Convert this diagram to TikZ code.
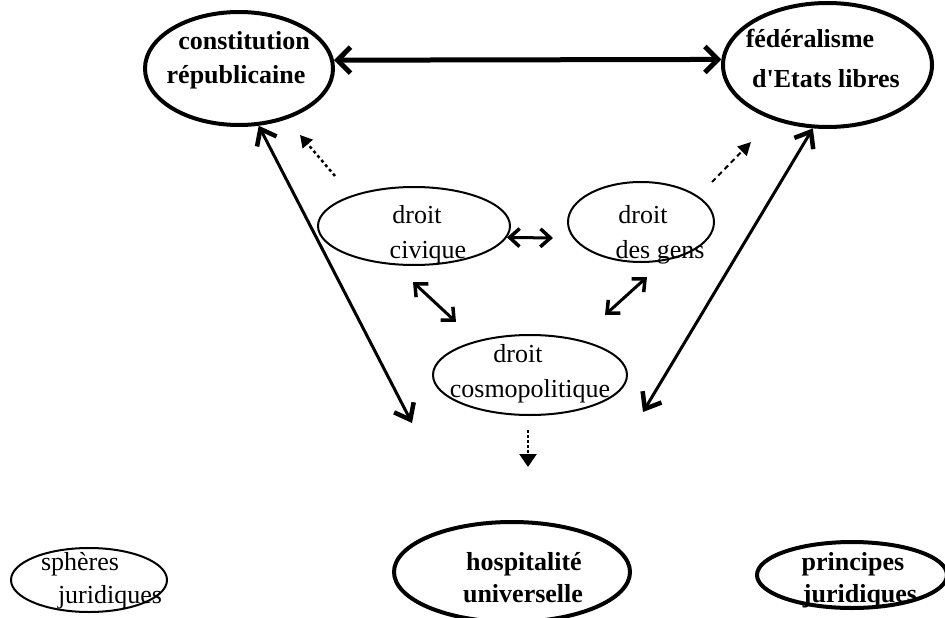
\documentclass[tikz,border=0pt]{standalone}
\usepackage{fontspec}
\newfontfamily\tnr{Liberation Serif}
\usetikzlibrary{shapes.geometric,arrows.meta}
\begin{document}
\begin{tikzpicture}[x=1pt,y=-1pt,
  thickell/.style={ellipse,draw,line width=4pt,inner sep=0pt},
  thinell/.style={ellipse,draw,line width=2pt,inner sep=0pt},
  txt/.style={anchor=base,inner sep=0pt,font=\tnr\fontsize{26}{30}\selectfont},
  btxt/.style={anchor=base,inner sep=0pt,font=\tnr\bfseries\fontsize{26}{30}\selectfont},
  bigarrow/.style={line width=5pt,>={Straight Barb[length=13pt,width=26pt,line width=5pt]},<->},
  longarrow/.style={line width=3pt,>={Straight Barb[length=14pt,width=22pt,line width=4.5pt]},<->},
  smallarrow/.style={line width=3pt,>={Straight Barb[length=10pt,width=18pt,line width=3.5pt]},<->},
  dotarrow/.style={line width=2.5pt,dash pattern=on 3pt off 3pt,-{Triangle[length=13pt,width=13pt]}}
]
\useasboundingbox (0,0) rectangle (945,618);
% ellipses
\node[thickell,minimum width=188pt,minimum height=113pt] (cr) at (239,68.5) {};
\node[thickell,minimum width=209pt,minimum height=124pt] (fe) at (827.5,65) {};
\node[thinell,minimum width=192pt,minimum height=78pt] (ci) at (414,226) {};
\node[thinell,minimum width=146pt,minimum height=80pt] (dg) at (641,222) {};
\node[thinell,minimum width=194pt,minimum height=80pt] (co) at (530,375) {};
\node[thinell,minimum width=156pt,minimum height=64pt] (sj) at (89,580) {};
\node[thickell,minimum width=236pt,minimum height=100pt] (hu) at (512,572) {};
\node[thickell,minimum width=190pt,minimum height=66pt] (pj) at (852,575) {};
% texts
\node[btxt] (cr1) at (244,50) {constitution};
\node[btxt] (cr2) at (236,83) {républicaine};
\node[btxt] (fe1) at (810,48) {fédéralisme};
\node[btxt] (fe2) at (826,88) {d'Etats libres};
\node[txt] (ci1) at (417,223) {droit};
\node[txt] (ci2) at (428,258) {civique};
\node[txt] (dg1) at (643,223) {droit};
\node[txt] (dg2) at (660,258) {des gens};
\node[txt] (co1) at (518,362) {droit};
\node[txt] (co2) at (530,397) {cosmopolitique};
\node[txt] (sj1) at (80,570) {sphères};
\node[txt] (sj2) at (110,603) {juridiques};
\node[btxt] (hu1) at (524,570) {hospitalité};
\node[btxt] (hu2) at (523,602) {universelle};
\node[btxt] (pj1) at (853,570) {principes};
\node[btxt] (pj2) at (860,602) {juridiques};
% free ends
\coordinate (lbot) at (412,423);
\coordinate (rbot) at (643,412);
\coordinate (cdB) at (553,238);
\coordinate (cc1) at (413,282);
\coordinate (cc2) at (456,322);
\coordinate (dc1) at (647,277);
\coordinate (dc2) at (605,315);
\coordinate (dl1) at (335,176);
\coordinate (dl2) at (300,135);
\coordinate (dr1) at (712,182);
\coordinate (dr2) at (751,142);
\coordinate (dd1) at (528,430);
\coordinate (dd2) at (528,467);
% connectors
\draw[bigarrow] (cr.5) -- (fe.177);
\draw[longarrow] (cr.-71) -- (lbot);
\draw[longarrow] (fe.-103) -- (rbot);
\draw[smallarrow] (ci.-7) -- (cdB);
\draw[smallarrow] (cc1) -- (cc2);
\draw[smallarrow] (dc1) -- (dc2);
\draw[dotarrow,-{Triangle[length=12pt,width=13pt]}] (dl1) -- (dl2);
\draw[dotarrow,dash pattern=on 5pt off 4pt,line width=2pt] (dr1) -- (dr2);
\draw[dotarrow,dash pattern=on 3pt off 2pt,-{Triangle[length=13pt,width=17pt]}] (dd1) -- (dd2);
\end{tikzpicture}
\end{document}
